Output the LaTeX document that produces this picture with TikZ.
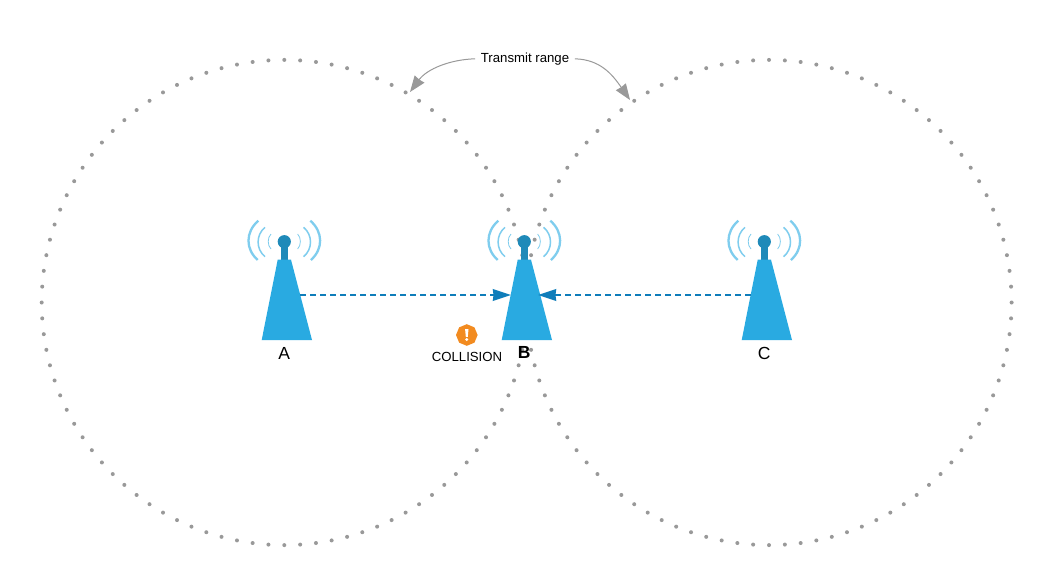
\documentclass[tikz,border=0pt]{standalone}
\usepackage{fontspec}
\setmainfont{Liberation Sans}
\usetikzlibrary{arrows.meta,shapes.geometric,calc}
\definecolor{dotgray}{HTML}{999999}
\definecolor{towerblue}{HTML}{29AAE1}
\definecolor{stemblue}{HTML}{1F8AB9}
\definecolor{arcblue}{HTML}{7FCDEE}
\definecolor{linkblue}{HTML}{0F7DBA}
\definecolor{alertorange}{HTML}{F28B20}
\tikzset{
  rangedot/.style={fill=dotgray,draw=none},
  towerbody/.style={fill=towerblue,draw=none},
  signalarc/.style={draw=arcblue,line cap=butt},
  stationlabel/.style={anchor=base,inner sep=0pt,font=\fontsize{17.5}{20}\selectfont},
  smalllabel/.style={font=\fontsize{13.2}{15}\selectfont},
  link/.style={draw=linkblue,line width=2.4pt,dash pattern=on 6pt off 4pt,
    -{Stealth[length=18pt,width=11.5pt,inset=0.5pt,fill=linkblue,sep=0pt]}},
  leader/.style={draw=dotgray,line width=1pt,
    -{Stealth[length=16pt,width=12pt,inset=0.5pt,fill=dotgray]}},
}
\newcommand{\rangecircle}[2]{%
  \foreach \k in {0,...,95}{\fill[rangedot] ($(#1,#2)+({\k*3.75}:242.6pt)$) circle (2pt);}}
\newcommand{\stationicon}[2]{%
  \begin{scope}[shift={(#1,0)}]
    \draw[signalarc,line width=2.3pt] (-26,220.7) .. controls (-39,232) and (-39,249) .. (-26.6,260);
    \draw[signalarc,line width=2.3pt] (26,220.7) .. controls (39,232) and (39,249) .. (26.6,260);
    \draw[signalarc,line width=1.5pt] (-19.3,227.3) .. controls (-28.5,235) and (-28.5,249) .. (-19.3,256.7);
    \draw[signalarc,line width=1.5pt] (19.3,227.3) .. controls (28.5,235) and (28.5,249) .. (19.3,256.7);
    \draw[signalarc,line width=.8pt] (-13.3,234) .. controls (-17,237.5) and (-17,245.5) .. (-13.3,249);
    \draw[signalarc,line width=.8pt] (13.3,234) .. controls (17,237.5) and (17,245.5) .. (13.3,249);
    \fill[stemblue] (-3.6,246) rectangle (3.6,259.5);
    \fill[stemblue] (0,241.7) circle (6.6pt);
    \fill[towerbody] (-6.6,259.7) -- (6.7,259.7) -- (27.7,340) -- (-22.6,340) -- cycle;
    \coordinate (#2) at (0,300);
  \end{scope}}
\begin{document}
\begin{tikzpicture}[x=1pt,y=-1pt]
\useasboundingbox (0,0) rectangle (1054,587);
\fill[white] (0,0) rectangle (1054,587);
\rangecircle{284.3}{302.5}
\rangecircle{769}{302.5}
\stationicon{284.3}{towerA}
\stationicon{524.3}{towerB}
\stationicon{764.3}{towerC}
\node[stationlabel] (labelA) at (284.3,359.3) {A};
\node[stationlabel] (labelB) at (524.3,358.8) {\bfseries B};
\node[stationlabel] (labelC) at (764.3,359.3) {C};
\coordinate (linkAstart) at (300,295);
\coordinate (linkAend) at (511,295);
\coordinate (linkCstart) at (751,295);
\coordinate (linkCend) at (538,295);
\draw[link] (linkAstart) -- (linkAend);
\draw[link] (linkCstart) -- (linkCend);
\node[regular polygon,regular polygon sides=8,shape border rotate=22.5,fill=alertorange,minimum size=21.6pt,inner sep=0pt] (alert) at (466.8,335) {};
\fill[white] ($(alert)+(-1.7,-6)$) -- ($(alert)+(1.7,-6)$) -- ($(alert)+(1,1.8)$) -- ($(alert)+(-1,1.8)$) -- cycle;
\fill[white] ($(alert)+(0,4.5)$) circle (1.6pt);
\node[smalllabel,anchor=base,inner sep=0pt] (collision) at (467,361) {COLLISION};
\node[smalllabel,inner sep=5.5pt] (range) at (525,58.8) {Transmit range};
\coordinate (rangeL) at (410,92);
\coordinate (rangeR) at (630,100);
\draw[leader] (range.west) .. controls (450,59.5) and (427,69) .. (rangeL);
\draw[leader] (range.east) .. controls (600,59.5) and (612,74) .. (rangeR);
\end{tikzpicture}
\end{document}
